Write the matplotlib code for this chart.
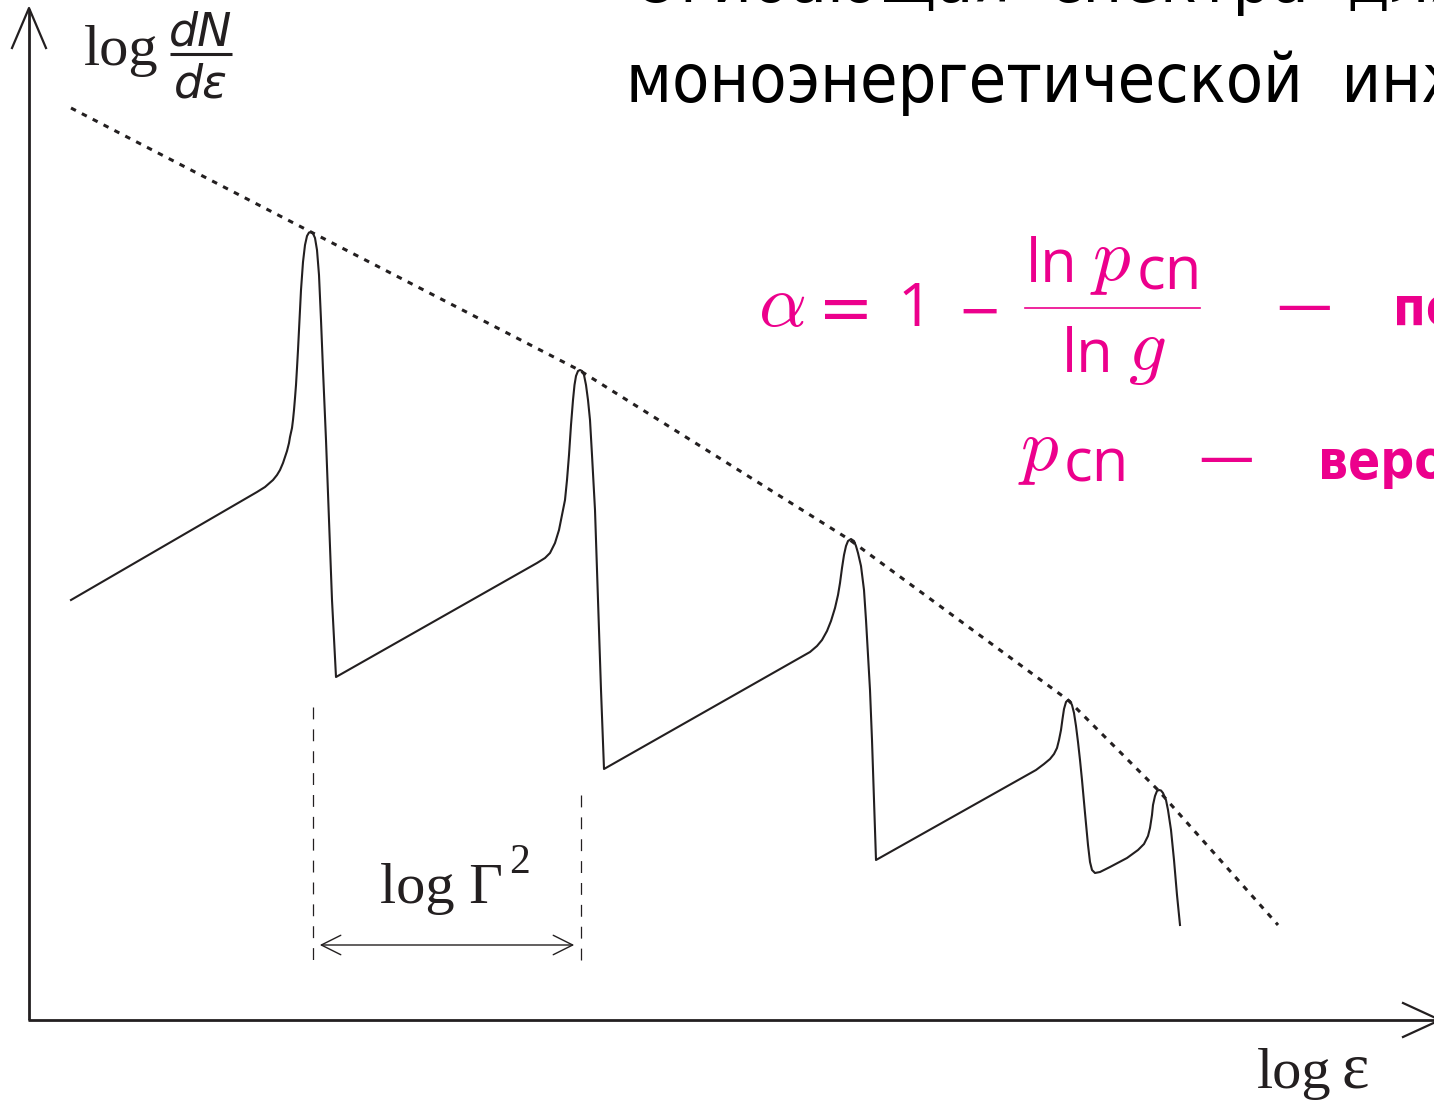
import matplotlib
matplotlib.use("Agg")
import matplotlib.pyplot as plt
from matplotlib import font_manager
from matplotlib.patches import FancyArrowPatch

plt.rcParams['mathtext.fontset'] = 'cm'

INK = '#231f20'
PINK = '#ec008c'

# spectrum: sawtooth of peaks, one continuous curve (x, log dN/dE in canvas units)
spec_x = [71, 257, 265, 273, 277, 280, 283, 285, 287, 289, 290, 292, 293, 294, 295, 296,
          297, 298, 299.5, 301, 303, 305, 307, 309, 311, 313, 315, 317, 319, 321, 323,
          326, 329, 332, 336,
          537, 545, 550, 555, 559, 562, 565, 567, 569, 571, 573, 574.5, 576, 578, 580,
          582, 584, 586, 588, 590, 592, 595, 598, 601, 604,
          810, 817, 822, 827, 831, 835, 838, 840, 842, 844, 846, 848, 851, 854, 856,
          858, 861, 864, 866, 868, 870, 872, 874, 876,
          1036, 1044, 1050, 1054, 1057, 1059, 1061, 1062.5, 1064, 1066, 1068, 1070, 1072,
          1074, 1076, 1078, 1080, 1082, 1085, 1088, 1090, 1092, 1095,
          1100, 1110, 1127, 1138, 1144, 1148, 1150, 1152, 1153, 1155, 1157, 1159, 1161,
          1163, 1166, 1168, 1171, 1174, 1177, 1180]
spec_y = [600, 492, 487, 480, 475, 470, 463, 457, 451, 443, 437, 428, 420, 410, 398, 385,
          368, 350, 320, 290, 262, 245, 236, 232.5, 232, 233.5, 238, 250, 275, 320, 370,
          440, 520, 600, 677,
          563, 558, 553, 543, 530, 515, 500, 480, 455, 425, 400, 385, 376, 371, 370,
          371, 375, 385, 400, 420, 455, 510, 600, 690, 769,
          652, 646, 640, 631, 621, 608, 595, 583, 568, 555, 546, 541, 539, 541, 546,
          553, 566, 590, 620, 655, 690, 740, 800, 860,
          770, 764, 759, 754, 748, 740, 730, 719, 709, 702, 700, 701, 705,
          713, 726, 742, 760, 780, 813, 845, 862, 870, 873,
          872, 867, 858, 850, 844, 836, 828, 815, 805, 796, 791, 790, 790.5,
          793, 800, 810, 830, 860, 895, 925]

# envelope through the peak tops
env_x = [71, 311, 579, 850, 1068, 1158, 1278]
env_y = [108, 232, 370, 540, 700, 790, 925]

# markers of the peak spacing log Gamma^2
gap_x = [313, 581]
gap_top = [707, 795]
gap_bottom = [965, 970]
gap_arrow_y = 945

installed = {f.name for f in font_manager.fontManager.ttflist}
if 'Liberation Sans Narrow' in installed:
    bold_kw = dict(family='Liberation Sans Narrow', fontsize=48, weight='bold')
else:
    bold_kw = dict(family='DejaVu Sans', fontstretch='condensed', fontsize=38, weight='bold')

fig = plt.figure(figsize=(14.34, 11.01), dpi=100)
ax = fig.add_axes([0, 0, 1, 1])
ax.set_xlim(0, 1434)
ax.set_ylim(1101, 0)
ax.axis('off')

# axes with open arrow heads
ax.plot([29, 29], [1020, 9], color=INK, lw=2.0, solid_capstyle='butt')
ax.plot([12, 29, 46], [48, 8, 48], color=INK, lw=1.6)
ax.plot([28, 1440], [1020, 1020], color=INK, lw=2.0, solid_capstyle='butt')
ax.plot([1403, 1440, 1403], [1003, 1020, 1037], color=INK, lw=1.6)

ax.plot(env_x, env_y, color=INK, lw=2.2, linestyle=(0, (1.8, 2.2)))
ax.plot(spec_x, spec_y, color=INK, lw=1.5, solid_joinstyle='round')

for gx, gt, gb in zip(gap_x, gap_top, gap_bottom):
    ax.plot([gx, gx], [gt, gb], color=INK, lw=0.9, linestyle=(0, (9.5, 8)))
ax.add_patch(FancyArrowPatch((gap_x[0] + 4, gap_arrow_y), (gap_x[1] - 4, gap_arrow_y),
                             arrowstyle='<->,head_length=0.7,head_width=0.35',
                             mutation_scale=20, color=INK, lw=1.0))

serif = 'Liberation Serif'
ax.text(380, 903, 'log Γ', fontsize=42, family=serif, color=INK, ha='left', va='baseline')
ax.text(509, 873, '2', fontsize=30, family=serif, color=INK, ha='left', va='baseline')
ax.text(1257, 1088, 'log', fontsize=42, family=serif, color=INK, ha='left', va='baseline')
ax.text(1341, 1088, 'ε', fontsize=47, family=serif, color=INK, ha='left', va='baseline')

# y label: log dN/dE
ax.text(84, 65, 'log', fontsize=42, family=serif, color=INK, ha='left', va='baseline')
ax.text(201, 45, 'dN', fontsize=33, family='DejaVu Sans', style='italic', color=INK,
        ha='center', va='baseline')
ax.plot([170, 232], [54, 54], color=INK, lw=2.2, solid_capstyle='butt')
ax.text(201, 97, 'dε', fontsize=33, family='DejaVu Sans', style='italic', color=INK,
        ha='center', va='baseline')

# slide title (partly outside the frame)
title_kw = dict(fontsize=49, family='DejaVu Sans', fontstretch='condensed', color='black',
                ha='left', va='baseline')
ax.text(632, 2, 'Огибающая  спектра  для', **title_kw)
ax.text(626, 102, 'моноэнергетической  инжекции', **title_kw)

# formula for the spectral index
sans = 'Open Sans'
ax.text(758, 326, r'$\alpha$', fontsize=54, color=PINK, ha='left', va='baseline')
ax.text(818, 331, '=', fontsize=48, family='DejaVu Sans', color=PINK,
        ha='left', va='baseline')
ax.text(898, 326, '1', fontsize=44, family=sans, color=PINK, ha='left', va='baseline')
ax.text(957, 328, '−', fontsize=38, family='DejaVu Sans', color=PINK, ha='left', va='baseline')
ax.text(1026, 282, 'ln', fontsize=43, family=sans, color=PINK, ha='left', va='baseline')
ax.text(1090, 280, r'$p$', fontsize=54, color=PINK, ha='left', va='baseline')
ax.text(1137, 289, 'cn', fontsize=43, family=sans, color=PINK, ha='left', va='baseline')
ax.plot([1025, 1200], [308, 308], color=PINK, lw=1.2)
ax.text(1062, 372, 'ln', fontsize=43, family=sans, color=PINK, ha='left', va='baseline')
ax.text(1128, 370, r'$g$', fontsize=54, color=PINK, ha='left', va='baseline')
ax.text(1276, 323, '—', fontsize=40, family='DejaVu Sans', color=PINK, ha='left', va='baseline')
ax.text(1393, 325, 'показатель спектра', color=PINK, ha='left', va='baseline', **bold_kw)

ax.text(1018, 470, r'$p$', fontsize=54, color=PINK, ha='left', va='baseline')
ax.text(1064, 482, 'cn', fontsize=43, family=sans, color=PINK, ha='left', va='baseline')
ax.text(1198, 475, '—', fontsize=40, family='DejaVu Sans', color=PINK, ha='left', va='baseline')
ax.text(1318, 478, 'вероятность', color=PINK, ha='left', va='baseline', **bold_kw)

fig.savefig('out.png', dpi=100)
